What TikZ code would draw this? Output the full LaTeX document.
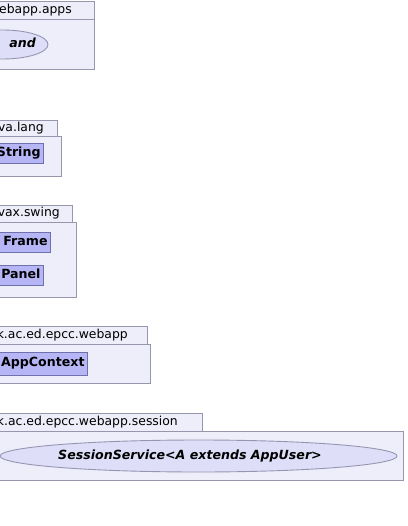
\documentclass[tikz,border=0pt]{standalone}
\usepackage{fontspec}
\setmainfont{DejaVu Sans}
\usepackage{tikz}
\usetikzlibrary{calc}
\usetikzlibrary{positioning}
\usetikzlibrary{shapes.geometric}
\definecolor{pkgfill}{RGB}{238,238,251}
\definecolor{pkgline}{RGB}{150,150,172}
\definecolor{clsfill}{RGB}{182,182,246}
\definecolor{clsline}{RGB}{112,112,172}
\definecolor{iffill}{RGB}{222,222,248}
\definecolor{ifline}{RGB}{150,150,178}
\tikzstyle{pkgtab} = [draw=pkgline, fill=pkgfill, rectangle, line width=0.9pt, inner sep=0, anchor=north east]
\tikzstyle{pkgbody} = [draw=pkgline, fill=pkgfill, rectangle, line width=0.9pt, inner sep=0, anchor=north east]
\tikzstyle{pkgname} = [font=\fontsize{12.4}{14}\selectfont, inner sep=0, anchor=east, text height=1.5ex, text depth=.25ex]
\tikzstyle{clsnode} = [draw=clsline, fill=clsfill, rectangle, line width=0.9pt, inner sep=3pt, anchor=east, align=right, minimum height=20pt, font=\fontsize{12.6}{14}\selectfont\bfseries, text height=1.5ex, text depth=.25ex]
\tikzstyle{ifnode} = [draw=ifline, fill=iffill, ellipse, line width=0.9pt, inner sep=0]
\tikzstyle{ifname} = [font=\fontsize{12.6}{14}\selectfont\bfseries\itshape, inner sep=0, text height=1.5ex, text depth=.25ex]

\begin{document}
\begin{tikzpicture}[x=1pt, y=-1pt]
\useasboundingbox (0,0) rectangle (407,526);
\clip (0,0) rectangle (407,526);

% webapp.apps
\node[pkgtab, minimum width=110pt, minimum height=18pt] (appsTab) at (94.5,1) {};
\node[pkgbody, minimum width=110pt, minimum height=50pt] (appsBody) at (94.5,19) {};
\node[pkgname] (appsName) at (72,10) {ebapp.apps};
\node[ifnode, minimum width=91pt, minimum height=29pt] (cmd) at (2.5,44.5) {};
\node[ifname, anchor=east] (cmdName) at (36,44.5) {and};

% java.lang
\node[pkgtab, minimum width=70pt, minimum height=16pt] (langTab) at (58,120) {};
\node[pkgbody, minimum width=75pt, minimum height=40pt] (langBody) at (62,136) {};
\node[pkgname] (langName) at (44,128) {va.lang};
\node[clsnode, text width=50pt] (string) at (44,153.5) {String};

% javax.swing
\node[pkgtab, minimum width=85pt, minimum height=17pt] (swingTab) at (73,205) {};
\node[pkgbody, minimum width=90pt, minimum height=75pt] (swingBody) at (77,222) {};
\node[pkgname] (swingName) at (60,213.5) {vax.swing};
\node[clsnode, text width=58pt] (frame) at (51,242) {Frame};
\node[clsnode, text width=50pt] (panel) at (44,275) {Panel};

% webapp
\node[pkgtab, minimum width=160pt, minimum height=18pt] (webTab) at (148,326) {};
\node[pkgbody, minimum width=165pt, minimum height=39pt] (webBody) at (151,344) {};
\node[pkgname] (webName) at (128,335) {k.ac.ed.epcc.webapp};
\node[clsnode, text width=92pt, minimum height=23pt] (ctx) at (88,363.5) {AppContext};

% webapp.session
\node[pkgtab, minimum width=215pt, minimum height=18pt] (sesTab) at (203,413) {};
\node[pkgbody, minimum width=420pt, minimum height=49pt] (sesBody) at (404,431) {};
\node[pkgname] (sesName) at (178,422) {k.ac.ed.epcc.webapp.session};
\node[ifnode, minimum width=397pt, minimum height=32pt] (sessionService) at (198.5,456) {};
\node[ifname] (sessionName) at (190,456) {SessionService<A extends AppUser>};
\end{tikzpicture}
\end{document}
